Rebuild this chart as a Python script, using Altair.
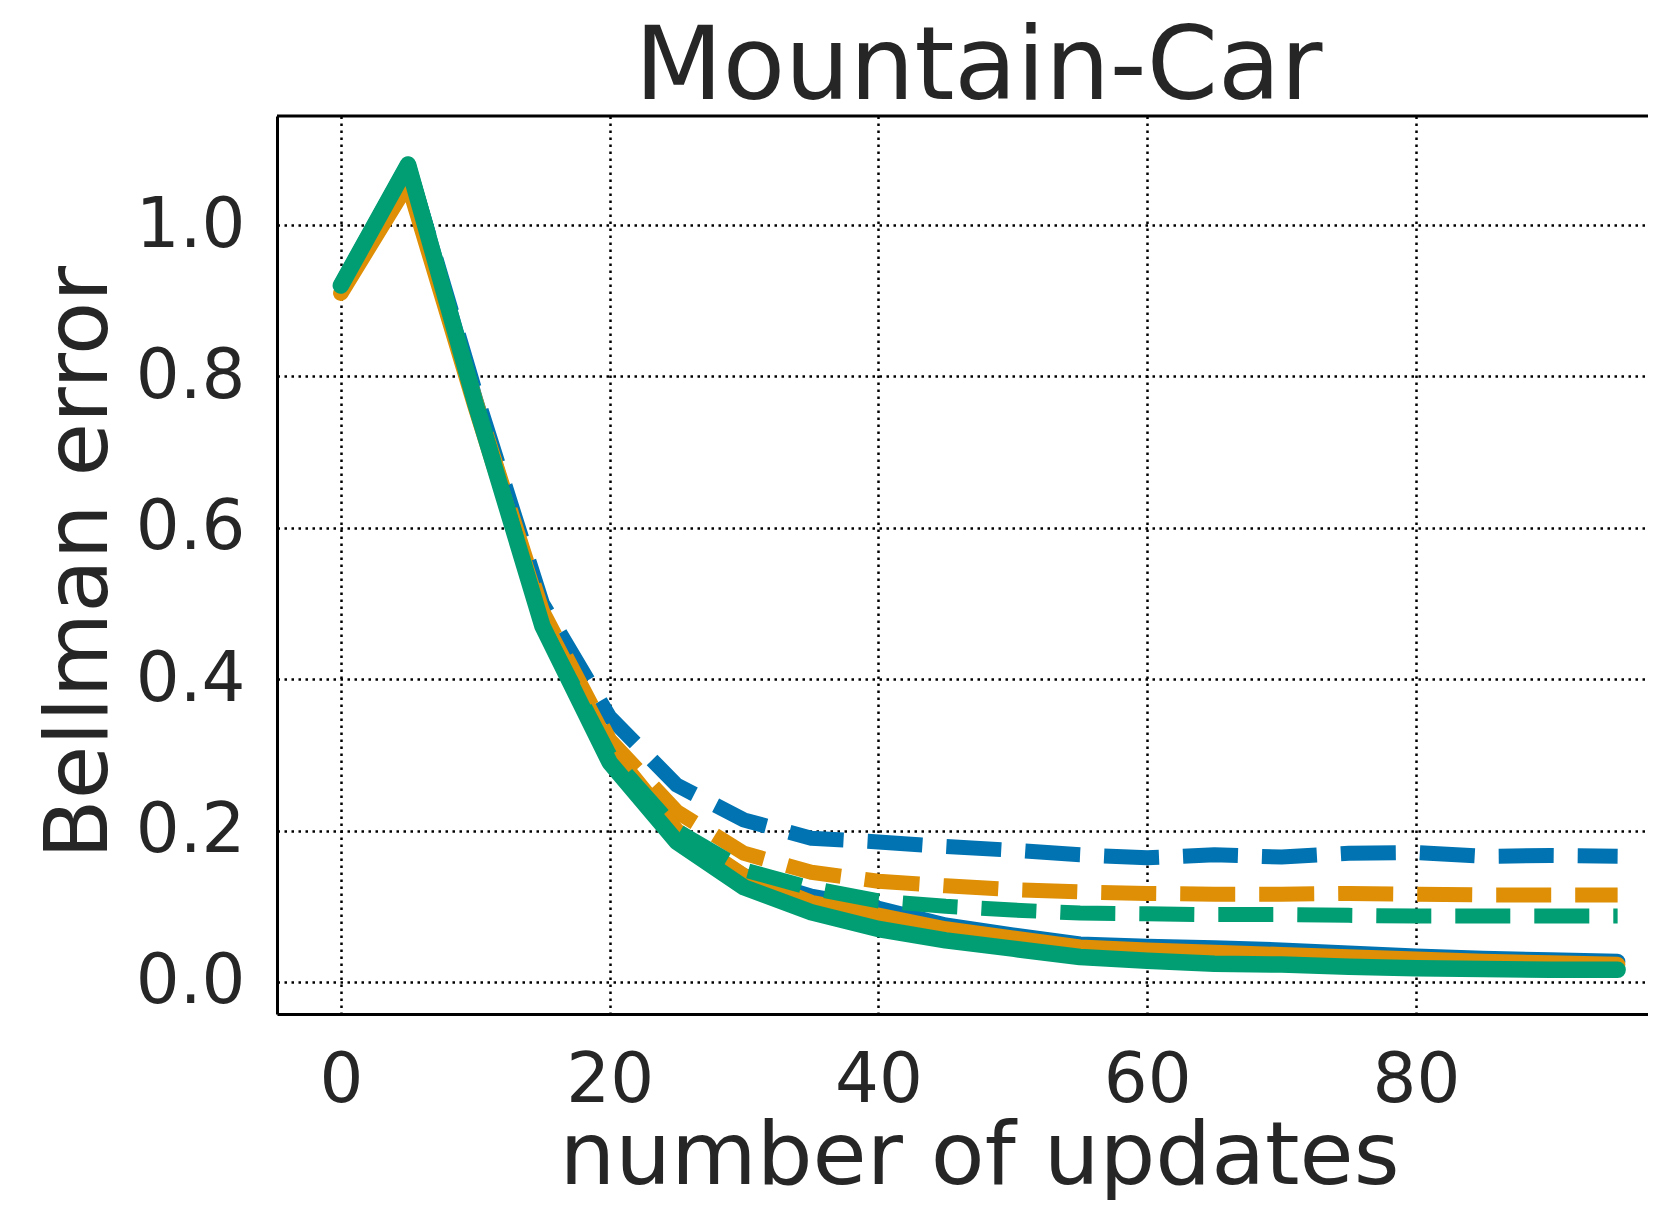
import altair as alt
import pandas as pd

# ---- data ----
updates = [0, 5, 10, 15, 20, 25, 30, 35, 40, 45, 50, 55, 60, 65, 70, 75, 80, 85, 90, 95]

blue_dashed = [0.92, 1.08, 0.78, 0.50, 0.35, 0.26, 0.214, 0.19, 0.185, 0.179, 0.174, 0.168,
               0.164, 0.168, 0.165, 0.170, 0.171, 0.166, 0.167, 0.166]
orange_dashed = [0.915, 1.06, 0.77, 0.49, 0.32, 0.225, 0.17, 0.145, 0.133, 0.127, 0.122, 0.119,
                 0.117, 0.116, 0.116, 0.117, 0.116, 0.115, 0.115, 0.115]
green_dashed = [0.92, 1.08, 0.77, 0.47, 0.30, 0.20, 0.148, 0.124, 0.107, 0.100, 0.095, 0.091,
                0.090, 0.089, 0.089, 0.088, 0.087, 0.087, 0.087, 0.087]
blue_solid = [0.92, 1.08, 0.77, 0.48, 0.30, 0.195, 0.14, 0.113, 0.097, 0.075, 0.062, 0.050,
              0.047, 0.045, 0.042, 0.038, 0.034, 0.031, 0.029, 0.027]
orange_solid = [0.91, 1.055, 0.76, 0.48, 0.31, 0.20, 0.14, 0.105, 0.088, 0.070, 0.058, 0.046,
                0.042, 0.039, 0.036, 0.033, 0.030, 0.027, 0.025, 0.023]
green_solid = [0.92, 1.08, 0.765, 0.47, 0.29, 0.185, 0.125, 0.092, 0.070, 0.055, 0.044, 0.033,
               0.028, 0.024, 0.023, 0.020, 0.018, 0.017, 0.016, 0.016]

x_ticks = [0, 20, 40, 60, 80]
y_ticks = [0.0, 0.2, 0.4, 0.6, 0.8, 1.0]

BLUE, ORANGE, GREEN = "#0173b2", "#de8f05", "#029e73"

# drawing order, bottom to top: (name, values, colour, dashed, width)
series = [
    ("blue dashed", blue_dashed, BLUE, True, 15),
    ("blue solid", blue_solid, BLUE, False, 15.5),
    ("orange dashed", orange_dashed, ORANGE, True, 15),
    ("orange solid", orange_solid, ORANGE, False, 15.5),
    ("green dashed", green_dashed, GREEN, True, 15),
    ("green solid", green_solid, GREEN, False, 16.5),
]

rows = []
for name, vals, _c, _d, _w in series:
    for u, v in zip(updates, vals):
        rows.append({"series": name, "updates": u, "error": v})
df = pd.DataFrame(rows)

W, H = 1371, 898
FONT = "DejaVu Sans"
TXT = "#262626"

x_enc = alt.X(
    "updates:Q",
    scale=alt.Scale(domain=[-4.75, 97.26], nice=False, zero=False),
    axis=alt.Axis(
        values=x_ticks, format="d", title="number of updates",
        grid=True, gridColor="black", gridDash=[2.5, 4.5], gridWidth=2.5,
        ticks=False, tickSize=0, labelPadding=32,
        labelFont=FONT, labelFontSize=69, labelColor=TXT,
        domain=True, domainColor="black", domainWidth=3,
        titleFont=FONT, titleFontSize=88, titleColor=TXT, titleFontWeight="normal",
        titleX=702, titleY=169, titleBaseline="alphabetic", titleAlign="center",
    ),
)
y_enc = alt.Y(
    "error:Q",
    scale=alt.Scale(domain=[-0.0423, 1.144], nice=False, zero=False),
    axis=alt.Axis(
        values=y_ticks, format=".1f", title="Bellman error",
        grid=True, gridColor="black", gridDash=[2.5, 4.5], gridWidth=2.5,
        ticks=False, tickSize=0, labelPadding=32,
        labelFont=FONT, labelFontSize=69, labelColor=TXT,
        domain=True, domainColor="black", domainWidth=3,
        titleFont=FONT, titleFontSize=87, titleColor=TXT, titleFontWeight="normal",
        titleX=-171, titleY=446, titleBaseline="alphabetic", titleAngle=270,
        titleAlign="center",
    ),
)

layers = []
for name, _v, color, dashed, width in series:
    mk = dict(color=color, strokeWidth=width, strokeJoin="round")
    if dashed:
        mk.update(strokeDash=[55, 24], strokeCap="butt")
    else:
        mk.update(strokeCap="round")
    layers.append(
        alt.Chart(df)
        .transform_filter(alt.datum.series == name)
        .mark_line(**mk)
        .encode(x=x_enc, y=y_enc)
    )

top_border = (
    alt.Chart(pd.DataFrame({"k": [0]}))
    .mark_rule(color="black", strokeWidth=3)
    .encode(y=alt.value(0), x=alt.value(0), x2=alt.value(W))
)

chart = (
    alt.layer(*layers, top_border)
    .properties(
        width=W,
        height=H,
        title=alt.TitleParams(
            "Mountain-Car", font=FONT, fontSize=102, color=TXT, fontWeight="normal",
            anchor="middle", dx=16, offset=-5,
        ),
        autosize=alt.AutoSizeParams(type="none"),
        padding={"left": 269, "top": 108, "right": 0, "bottom": 186},
    )
    .configure_view(strokeWidth=0)
    .configure(background="white")
)

chart.save("out.html", embed_options={"renderer": "svg", "actions": False})
